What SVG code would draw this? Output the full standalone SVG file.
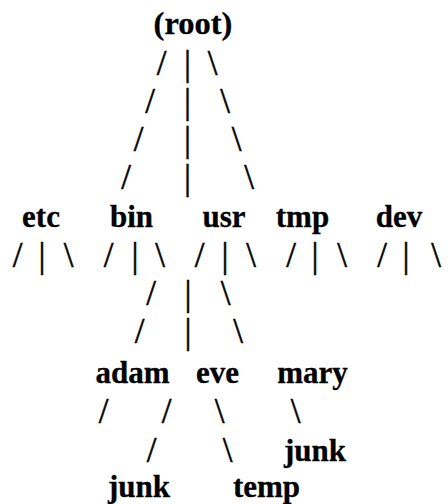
<svg xmlns="http://www.w3.org/2000/svg" width="448" height="504" viewBox="0 0 448 504">
<style>
.n{font-family:"Liberation Serif","Times New Roman",serif;font-weight:bold;font-size:31px;fill:#000;stroke:#000;stroke-width:0.3;text-anchor:middle}
.r{font-size:32.5px}
.c{font-family:"Liberation Serif","Times New Roman",serif;font-size:35px;fill:#000;stroke:#000;stroke-width:0.5;text-anchor:middle}
</style>
<rect width="448" height="504" fill="#fff"/>
<g id="connectors">
<text class="c" x="161.5" y="75">/</text><text class="c" x="187.5" y="75">|</text><text class="c" x="212.5" y="75">\</text>
<text class="c" x="150" y="113">/</text><text class="c" x="187.5" y="113">|</text><text class="c" x="225" y="113">\</text>
<text class="c" x="138.5" y="151">/</text><text class="c" x="187.5" y="151">|</text><text class="c" x="236.5" y="151">\</text>
<text class="c" x="126" y="189">/</text><text class="c" x="187.5" y="189">|</text><text class="c" x="249" y="189">\</text>
<text class="c" x="17.5" y="267">/</text><text class="c" x="42" y="267">|</text><text class="c" x="68.5" y="267">\</text>
<text class="c" x="108.5" y="267">/</text><text class="c" x="135" y="267">|</text><text class="c" x="160" y="267">\</text>
<text class="c" x="199.5" y="267">/</text><text class="c" x="225" y="267">|</text><text class="c" x="251" y="267">\</text>
<text class="c" x="291" y="267">/</text><text class="c" x="315" y="267">|</text><text class="c" x="342" y="267">\</text>
<text class="c" x="382" y="267">/</text><text class="c" x="406" y="267">|</text><text class="c" x="436" y="267">\</text>
<text class="c" x="151" y="305">/</text><text class="c" x="188" y="305">|</text><text class="c" x="225.5" y="305">\</text>
<text class="c" x="139.5" y="343">/</text><text class="c" x="188" y="343">|</text><text class="c" x="238" y="343">\</text>
<text class="c" x="103.5" y="423">/</text><text class="c" x="166.5" y="423">/</text><text class="c" x="219.5" y="423">\</text><text class="c" x="295.5" y="423">\</text>
<text class="c" x="151.5" y="462">/</text><text class="c" x="227.5" y="462">\</text>
</g>
<g id="root"><text class="n r" x="193" y="34">(root)</text></g>
<g id="etc"><text class="n" x="41" y="227">etc</text></g>
<g id="bin"><text class="n" x="131.5" y="227">bin</text></g>
<g id="usr"><text class="n" x="224" y="227">usr</text></g>
<g id="tmp"><text class="n" x="302.5" y="227">tmp</text></g>
<g id="dev"><text class="n" x="399" y="227">dev</text></g>
<g id="adam"><text class="n" x="132.5" y="383">adam</text></g>
<g id="eve"><text class="n" x="217.5" y="383">eve</text></g>
<g id="mary"><text class="n" x="312.5" y="383">mary</text></g>
<g id="junk2"><text class="n" x="315" y="461">junk</text></g>
<g id="junk1"><text class="n" x="139" y="497">junk</text></g>
<g id="temp"><text class="n" x="266.5" y="497">temp</text></g>
</svg>
